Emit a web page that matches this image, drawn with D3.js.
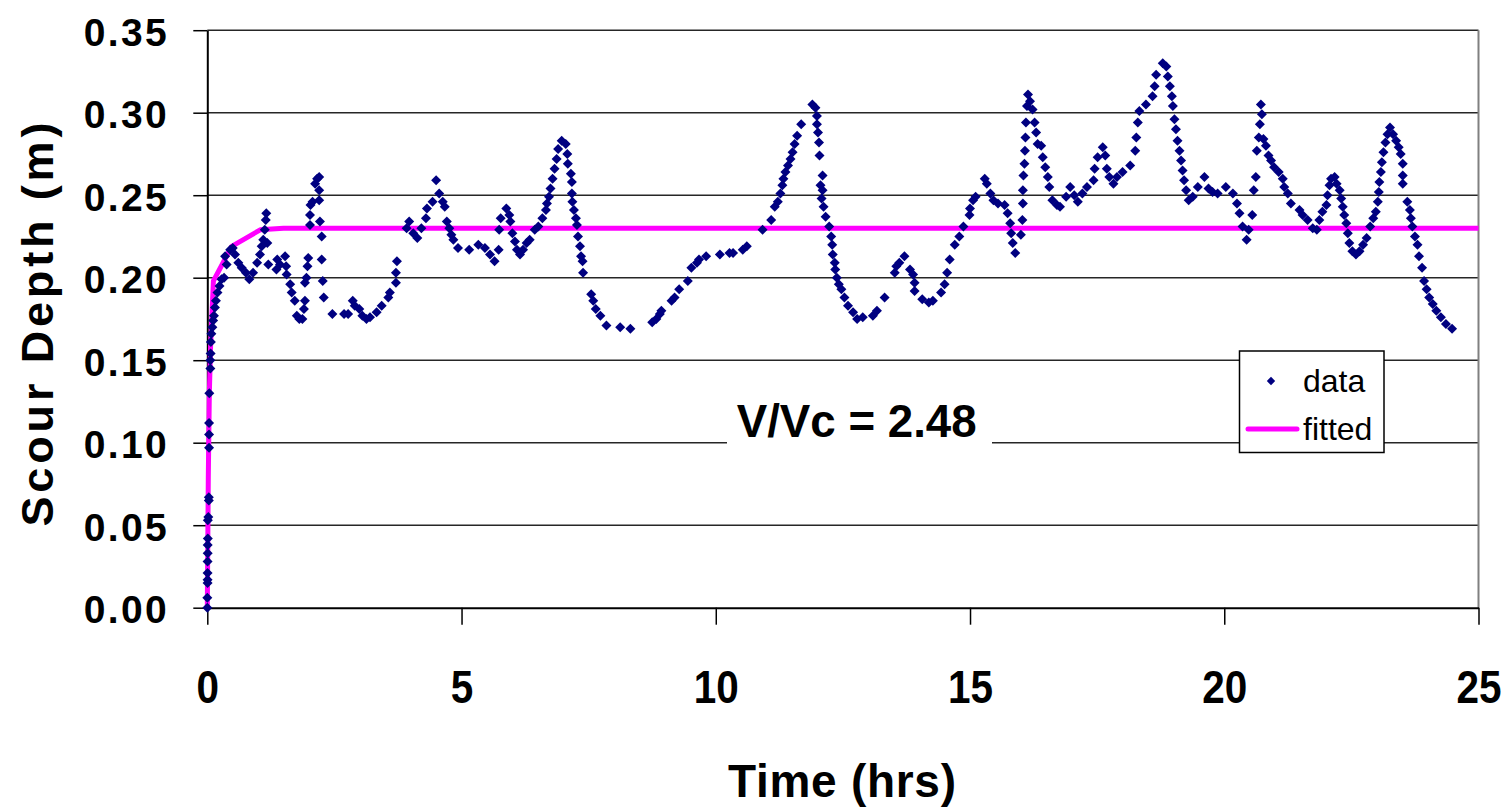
<!DOCTYPE html>
<html>
<head>
<meta charset="utf-8">
<script src="https://cdn.jsdelivr.net/npm/d3@7"></script>
<style>
  body { margin: 0; background: #fff; }
  svg { display: block; }
  text { font-family: "Liberation Sans", Arial, Helvetica, sans-serif; }
</style>
</head>
<body>
<svg id="chart" width="1508" height="812"></svg>
<script>
// Measured scour depth (m) against elapsed time (hrs)
const timeHrs = [
  0, 0, 0.005, 0.005, 0.005, 0.005, 0.008, 0.008, 0.01, 0.01, 0.02, 0.03, 0.03, 0.035, 0.035, 0.035,
  0.04, 0.06, 0.06, 0.065, 0.07, 0.08, 0.1, 0.115, 0.13, 0.15, 0.17, 0.2, 0.24, 0.28, 0.33, 0.35,
  0.38, 0.45, 0.5, 0.545, 0.61, 0.676, 0.76, 0.826, 0.9, 0.98, 1.036, 1.07, 1.1, 1.13, 1.15, 1.16,
  1.18, 1.2, 1.36, 1.376, 1.43, 1.53, 1.55, 1.56, 1.63, 1.66, 1.72, 1.76, 1.81, 1.87, 1.9, 1.92,
  1.92, 1.95, 1.97, 1.985, 2.02, 2.02, 2.03, 2.07, 2.12, 2.16, 2.2, 2.2, 2.2, 2.215, 2.25, 2.25,
  2.27, 2.29, 2.46, 2.69, 2.77, 2.86, 2.9, 2.99, 3.05, 3.13, 3.2, 3.33, 3.43, 3.56, 3.59, 3.71,
  3.71, 3.73, 3.92, 3.97, 4.05, 4.13, 4.21, 4.3, 4.32, 4.43, 4.5, 4.56, 4.63, 4.67, 4.71, 4.76,
  4.8, 4.84, 4.93, 5.15, 5.33, 5.46, 5.56, 5.65, 5.73, 5.74, 5.77, 5.88, 5.94, 5.96, 6.0, 6.05,
  6.09, 6.15, 6.21, 6.28, 6.34, 6.44, 6.51, 6.59, 6.66, 6.68, 6.72, 6.75, 6.79, 6.83, 6.87, 6.9,
  6.97, 7.05, 7.08, 7.09, 7.15, 7.17, 7.17, 7.18, 7.21, 7.25, 7.27, 7.29, 7.33, 7.35, 7.38, 7.39,
  7.55, 7.59, 7.64, 7.73, 7.85, 8.12, 8.32, 8.75, 8.83, 8.9, 8.93, 9.13, 9.19, 9.28, 9.45, 9.52,
  9.63, 9.67, 9.81, 10.08, 10.27, 10.34, 10.53, 10.61, 10.92, 11.09, 11.16, 11.22, 11.27, 11.31, 11.33, 11.37,
  11.42, 11.47, 11.51, 11.55, 11.6, 11.68, 11.9, 11.96, 11.99, 11.99, 12.01, 12.03, 12.04, 12.1, 12.06, 12.1,
  12.08, 12.12, 12.16, 12.23, 12.27, 12.29, 12.3, 12.34, 12.35, 12.38, 12.42, 12.47, 12.53, 12.6, 12.7, 12.78,
  12.89, 13.09, 13.17, 13.32, 13.52, 13.55, 13.61, 13.71, 13.82, 13.88, 13.91, 13.91, 14.06, 14.19, 14.27, 14.43,
  14.5, 14.55, 14.6, 14.7, 14.79, 14.87, 14.99, 15.0, 15.06, 15.11, 15.29, 15.33, 15.4, 15.46, 15.55, 15.68,
  15.74, 15.79, 15.81, 15.84, 15.89, 16.0, 16.03, 16.04, 16.04, 16.05, 16.07, 16.08, 16.09, 16.1, 16.12, 16.14,
  16.18, 16.23, 16.27, 16.3, 16.33, 16.4, 16.43, 16.48, 16.53, 16.56, 16.62, 16.71, 16.77, 16.89, 16.97, 17.05,
  17.12, 17.21, 17.3, 17.43, 17.45, 17.51, 17.61, 17.66, 17.69, 17.74, 17.82, 17.89, 18.0, 18.15, 18.25, 18.27,
  18.3, 18.33, 18.46, 18.59, 18.63, 18.66, 18.79, 18.86, 18.89, 18.93, 18.97, 18.99, 19.02, 19.05, 19.08, 19.12,
  19.15, 19.18, 19.21, 19.25, 19.3, 19.38, 19.48, 19.61, 19.69, 19.77, 19.87, 20.03, 20.17, 20.25, 20.3, 20.36,
  20.44, 20.48, 20.55, 20.58, 20.62, 20.64, 20.68, 20.7, 20.74, 20.72, 20.77, 20.82, 20.87, 20.92, 20.98, 21.07,
  21.15, 21.18, 21.25, 21.31, 21.48, 21.54, 21.64, 21.74, 21.82, 21.87, 21.93, 22.01, 22.03, 22.07, 22.1, 22.17,
  22.21, 22.27, 22.3, 22.33, 22.36, 22.4, 22.43, 22.46, 22.52, 22.59, 22.66, 22.73, 22.8, 22.87, 22.93, 22.98,
  23.02, 23.04, 23.05, 23.08, 23.1, 23.13, 23.17, 23.21, 23.26, 23.32, 23.38, 23.43, 23.47, 23.51, 23.51, 23.51,
  23.6, 23.65, 23.67, 23.7, 23.75, 23.8, 23.83, 23.89, 23.93, 23.98, 24.03, 24.1, 24.17, 24.26, 24.36, 24.48
];
const scourDepth = [
  0, 0.006, 0.015, 0.017, 0.021, 0.028, 0.033, 0.038, 0.042, 0.053, 0.055, 0.065, 0.067, 0.097, 0.105, 0.112,
  0.13, 0.145, 0.15, 0.154, 0.161, 0.166, 0.17, 0.174, 0.177, 0.182, 0.186, 0.191, 0.195, 0.199, 0.2, 0.213,
  0.208, 0.217, 0.218, 0.214, 0.209, 0.206, 0.203, 0.199, 0.203, 0.209, 0.214, 0.219, 0.223, 0.229, 0.235, 0.239,
  0.221, 0.208, 0.205, 0.211, 0.208, 0.213, 0.207, 0.202, 0.196, 0.191, 0.186, 0.177, 0.175, 0.175, 0.181, 0.186,
  0.197, 0.2, 0.207, 0.212, 0.232, 0.238, 0.244, 0.246, 0.257, 0.26, 0.261, 0.253, 0.247, 0.234, 0.225, 0.211,
  0.198, 0.188, 0.178, 0.178, 0.178, 0.186, 0.183, 0.181, 0.177, 0.175, 0.176, 0.179, 0.183, 0.188, 0.191, 0.197,
  0.203, 0.21, 0.23, 0.234, 0.227, 0.224, 0.23, 0.236, 0.242, 0.246, 0.259, 0.251, 0.246, 0.243, 0.234, 0.23,
  0.226, 0.223, 0.218, 0.217, 0.22, 0.218, 0.214, 0.21, 0.217, 0.229, 0.236, 0.242, 0.238, 0.234, 0.227, 0.222,
  0.217, 0.214, 0.217, 0.221, 0.223, 0.229, 0.231, 0.236, 0.241, 0.245, 0.249, 0.254, 0.26, 0.266, 0.272, 0.278,
  0.283, 0.281, 0.275, 0.269, 0.263, 0.258, 0.251, 0.246, 0.241, 0.236, 0.232, 0.225, 0.219, 0.213, 0.21, 0.203,
  0.19, 0.186, 0.181, 0.177, 0.171, 0.17, 0.169, 0.173, 0.175, 0.178, 0.18, 0.186, 0.188, 0.193, 0.198, 0.206,
  0.209, 0.211, 0.213, 0.214, 0.215, 0.215, 0.217, 0.219, 0.229, 0.235, 0.243, 0.246, 0.251, 0.256, 0.26, 0.264,
  0.268, 0.272, 0.276, 0.281, 0.286, 0.293, 0.305, 0.303, 0.298, 0.293, 0.288, 0.282, 0.274, 0.262, 0.256, 0.253,
  0.248, 0.243, 0.237, 0.231, 0.225, 0.22, 0.214, 0.209, 0.205, 0.2, 0.196, 0.193, 0.188, 0.183, 0.179, 0.175,
  0.176, 0.177, 0.18, 0.188, 0.203, 0.207, 0.209, 0.213, 0.205, 0.202, 0.197, 0.192, 0.187, 0.185, 0.186, 0.191,
  0.196, 0.203, 0.211, 0.22, 0.225, 0.231, 0.238, 0.242, 0.247, 0.249, 0.26, 0.257, 0.251, 0.247, 0.245, 0.244,
  0.239, 0.233, 0.227, 0.221, 0.215, 0.226, 0.235, 0.245, 0.253, 0.262, 0.269, 0.277, 0.285, 0.294, 0.304, 0.311,
  0.307, 0.302, 0.294, 0.288, 0.281, 0.28, 0.273, 0.267, 0.261, 0.255, 0.247, 0.244, 0.243, 0.249, 0.255, 0.25,
  0.246, 0.251, 0.255, 0.259, 0.266, 0.273, 0.279, 0.274, 0.266, 0.261, 0.257, 0.261, 0.264, 0.268, 0.277, 0.285,
  0.294, 0.301, 0.305, 0.31, 0.316, 0.323, 0.33, 0.328, 0.322, 0.316, 0.31, 0.304, 0.296, 0.29, 0.283, 0.277,
  0.271, 0.265, 0.259, 0.253, 0.247, 0.249, 0.255, 0.261, 0.254, 0.252, 0.251, 0.255, 0.251, 0.245, 0.239, 0.231,
  0.223, 0.229, 0.238, 0.253, 0.261, 0.277, 0.285, 0.293, 0.299, 0.305, 0.284, 0.28, 0.274, 0.271, 0.267, 0.264,
  0.26, 0.255, 0.251, 0.245, 0.241, 0.238, 0.235, 0.23, 0.229, 0.235, 0.24, 0.244, 0.25, 0.256, 0.26, 0.261,
  0.257, 0.253, 0.248, 0.243, 0.238, 0.233, 0.227, 0.221, 0.216, 0.214, 0.216, 0.22, 0.224, 0.231, 0.236, 0.24,
  0.246, 0.252, 0.258, 0.264, 0.27, 0.276, 0.282, 0.287, 0.291, 0.287, 0.283, 0.279, 0.275, 0.269, 0.262, 0.257,
  0.246, 0.241, 0.236, 0.231, 0.225, 0.22, 0.213, 0.206, 0.198, 0.193, 0.188, 0.184, 0.18, 0.176, 0.172, 0.169
];

// Fitted scour-development curve
const fitTime  = [0, 0.02, 0.04, 0.066, 0.12, 0.48, 1.04, 1.5, 25];
const fitDepth = [0, 0.08, 0.13, 0.16, 0.198, 0.219, 0.229, 0.23, 0.23];

const xTicks = [0, 5, 10, 15, 20, 25];
const yTicks = [0, 0.05, 0.10, 0.15, 0.20, 0.25, 0.30, 0.35];
const xTitle = "Time (hrs)";
const yTitle = "Scour Depth (m)";
const annotation = "V/Vc = 2.48";
const legendLabels = ["data", "fitted"];

const NAVY = "#000080";
const MAGENTA = "#FF00FF";

const svg = d3.select("#chart");
const x = d3.scaleLinear().domain([0, 25]).range([207.3, 1478.5]);
const y = d3.scaleLinear().domain([0, 0.35]).range([607.7, 30.2]);

// Horizontal gridlines
svg.append("g").selectAll("line")
  .data(yTicks.filter(d => d > 0))
  .join("line")
  .attr("x1", x(0)).attr("x2", x(25))
  .attr("y1", d => y(d)).attr("y2", d => y(d))
  .attr("stroke", "#262626").attr("stroke-width", 1.5);

// Plot-area right border
svg.append("line")
  .attr("x1", x(25)).attr("x2", x(25))
  .attr("y1", y(0.35)).attr("y2", y(0))
  .attr("stroke", "#808080").attr("stroke-width", 2);

// Y axis
const yAxis = svg.append("g")
  .attr("transform", `translate(${x(0)},0)`)
  .call(d3.axisLeft(y).tickValues(yTicks).tickSize(14).tickSizeOuter(0)
    .tickFormat(d3.format(".2f")));
yAxis.select(".domain").attr("stroke", "#000").attr("stroke-width", 2);
yAxis.selectAll(".tick line").attr("stroke", "#000").attr("stroke-width", 1.5);
yAxis.selectAll(".tick text")
  .attr("x", -40.6).attr("dy", null).attr("y", 14.8)
  .attr("text-anchor", "end")
  .attr("textLength", 83).attr("lengthAdjust", "spacing")
  .style("font-size", "39px").style("font-weight", "bold").attr("fill", "#000");

// X axis
const xAxis = svg.append("g")
  .attr("transform", `translate(0,${y(0)})`)
  .call(d3.axisBottom(x).tickValues(xTicks).tickSize(17).tickSizeOuter(0)
    .tickFormat(d3.format("d")));
xAxis.select(".domain").attr("stroke", "#000").attr("stroke-width", 2);
xAxis.selectAll(".tick line").attr("stroke", "#000").attr("stroke-width", 1.5);
xAxis.selectAll(".tick text")
  .attr("dy", null).attr("y", 95.6)
  .attr("text-anchor", "middle")
  .attr("transform", "scale(0.88,1)")
  .style("font-size", "46px").style("font-weight", "bold").attr("fill", "#000");

// Axis titles
svg.append("text")
  .attr("x", 842).attr("y", 796.7)
  .attr("text-anchor", "middle")
  .attr("textLength", 228).attr("lengthAdjust", "spacing")
  .style("font-size", "46px").style("font-weight", "bold")
  .text(xTitle);

svg.append("text")
  .attr("transform", "translate(52.9,324.5) rotate(-90)")
  .attr("text-anchor", "middle")
  .attr("textLength", 404).attr("lengthAdjust", "spacing")
  .style("font-size", "45px").style("font-weight", "bold")
  .text(yTitle);

// Annotation with white backing box
svg.append("rect")
  .attr("x", 727).attr("y", 396).attr("width", 265).attr("height", 54)
  .attr("fill", "#fff");
svg.append("text")
  .attr("x", 736.7).attr("y", 436.7)
  .attr("textLength", 240).attr("lengthAdjust", "spacingAndGlyphs")
  .style("font-size", "46px").style("font-weight", "bold")
  .text(annotation);

// Fitted curve
const line = d3.line().x((d, i) => x(fitTime[i])).y((d, i) => y(fitDepth[i]));
svg.append("path")
  .datum(fitDepth)
  .attr("d", line)
  .attr("fill", "none")
  .attr("stroke", MAGENTA)
  .attr("stroke-width", 5)
  .attr("stroke-linejoin", "round");

// Data markers (diamonds)
const diamond = r => `M0,${-r}L${r},0L0,${r}L${-r},0Z`;
svg.append("g").selectAll("path")
  .data(d3.range(timeHrs.length))
  .join("path")
  .attr("transform", i => `translate(${x(timeHrs[i])},${y(scourDepth[i])})`)
  .attr("d", diamond(5))
  .attr("fill", NAVY);

// Legend
const legend = svg.append("g");
legend.append("rect")
  .attr("x", 1239.5).attr("y", 351).attr("width", 144.5).attr("height", 101.5)
  .attr("fill", "#fff").attr("stroke", "#000").attr("stroke-width", 1.5);
legend.append("path")
  .attr("transform", "translate(1271,381)")
  .attr("d", diamond(4.2)).attr("fill", NAVY);
legend.append("line")
  .attr("x1", 1248).attr("x2", 1297).attr("y1", 429).attr("y2", 429)
  .attr("stroke", MAGENTA).attr("stroke-width", 5).attr("stroke-linecap", "round");
legend.selectAll("text.lbl")
  .data(legendLabels)
  .join("text")
  .attr("class", "lbl")
  .attr("x", 1303)
  .attr("y", (d, i) => i === 0 ? 391.7 : 440)
  .style("font-size", "32px")
  .text(d => d);
</script>
</body>
</html>
